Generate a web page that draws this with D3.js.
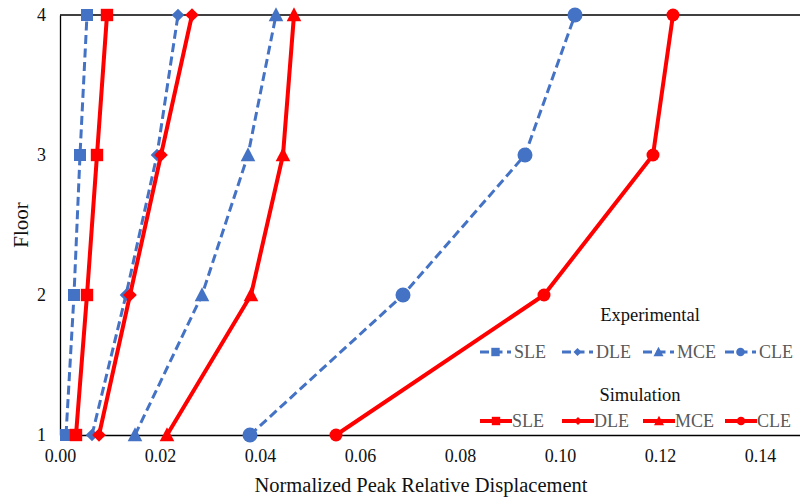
<!DOCTYPE html>
<html>
<head>
<meta charset="utf-8">
<script src="https://cdn.jsdelivr.net/npm/d3@7"></script>
<style>
  body { margin: 0; background: #fff; }
  svg text { font-family: "Liberation Serif", "Times New Roman", Tinos, "DejaVu Serif", serif; }
</style>
</head>
<body>
<svg id="chart" width="800" height="500"></svg>
<script>
// Floors (y) and normalized peak relative displacement per floor (x)
const floors = [1, 2, 3, 4];
const levels = ["SLE", "DLE", "MCE", "CLE"];
const markers = ["square", "diamond", "triangle", "circle"];

const expSLE = [0.0012, 0.0028, 0.0040, 0.0054];
const expDLE = [0.0064, 0.0132, 0.0194, 0.0236];
const expMCE = [0.0150, 0.0284, 0.0376, 0.0432];
const expCLE = [0.0380, 0.0686, 0.0930, 0.1030];

const simSLE = [0.0032, 0.0054, 0.0074, 0.0094];
const simDLE = [0.0078, 0.0140, 0.0202, 0.0264];
const simMCE = [0.0214, 0.0382, 0.0446, 0.0468];
const simCLE = [0.0552, 0.0968, 0.1186, 0.1226];

const xTicks = [0, 0.02, 0.04, 0.06, 0.08, 0.10, 0.12, 0.14];
const yTicks = [1, 2, 3, 4];

const groups = [
  { name: "Experimental", color: "#4472C4", dashed: true,  series: [expSLE, expDLE, expMCE, expCLE] },
  { name: "Simulation",   color: "#FF0000", dashed: false, series: [simSLE, simDLE, simMCE, simCLE] }
];

const FONT = '"Liberation Serif", "Times New Roman", Tinos, "DejaVu Serif", serif';
const svg = d3.select("#chart");
const m = { left: 60, top: 15, right: 800, bottom: 435 };

const x = d3.scaleLinear().domain([0, 0.148]).range([m.left, m.right]);
const y = d3.scaleLinear().domain([1, 4]).range([m.bottom, m.top]);

// Frame lines: top border plus the two axes
svg.append("line").attr("x1", m.left).attr("x2", m.right).attr("y1", m.top).attr("y2", m.top)
  .attr("stroke", "#000").attr("stroke-width", 1.3);

const xAxis = svg.append("g").attr("transform", `translate(0,${m.bottom})`)
  .call(d3.axisBottom(x).tickValues(xTicks).tickFormat(d3.format(".2f")).tickSize(0).tickPadding(14));
xAxis.attr("font-family", FONT).attr("font-size", 18);
xAxis.select(".domain").attr("stroke", "#000").attr("stroke-width", 1.3);
xAxis.selectAll("text").attr("fill", "#111");

const yAxis = svg.append("g").attr("transform", `translate(${m.left},0)`)
  .call(d3.axisLeft(y).tickValues(yTicks).tickFormat(d3.format("d")).tickSize(0).tickPadding(14));
yAxis.attr("font-family", FONT).attr("font-size", 18);
yAxis.select(".domain").attr("stroke", "#000").attr("stroke-width", 1.3);
yAxis.selectAll("text").attr("fill", "#111");

// Axis titles
svg.append("text").attr("x", 421).attr("y", 492).attr("text-anchor", "middle")
  .attr("font-family", FONT).attr("font-size", 20.5).attr("fill", "#111")
  .text("Normalized Peak Relative Displacement");
svg.append("text").attr("transform", "translate(28,225) rotate(-90)").attr("text-anchor", "middle")
  .attr("font-family", FONT).attr("font-size", 21).attr("fill", "#111").text("Floor");

// Marker shapes; r is the half-width of the marker
function markerPath(kind, r) {
  if (kind === "square") return `M${-r},${-r}H${r}V${r}H${-r}Z`;
  if (kind === "diamond") return `M0,${-r}L${r},0L0,${r}L${-r},0Z`;
  if (kind === "triangle") return `M0,${-r * 1.05}L${r},${r * 0.85}L${-r},${r * 0.85}Z`;
  const p = d3.path(); p.arc(0, 0, r, 0, 2 * Math.PI); return p.toString();
}
const markerR = {
  Experimental: { square: 6, diamond: 6.3, triangle: 7.3, circle: 7.5 },
  Simulation:   { square: 6.2, diamond: 6.8, triangle: 7.3, circle: 6.5 }
};

const line = d3.line().x(d => x(d[0])).y(d => y(d[1]));

const plot = svg.append("g");
groups.forEach(g => {
  g.series.forEach((vals, i) => {
    const pts = vals.map((v, k) => [v, floors[k]]);
    plot.append("path").attr("d", line(pts)).attr("fill", "none")
      .attr("stroke", g.color).attr("stroke-width", g.dashed ? 3 : 4)
      .attr("stroke-dasharray", g.dashed ? "9,4.5" : null)
      .attr("stroke-linejoin", "round");
    plot.selectAll(null).data(pts).enter().append("path")
      .attr("d", markerPath(markers[i], markerR[g.name][markers[i]]))
      .attr("transform", d => `translate(${x(d[0])},${y(d[1])})`)
      .attr("fill", g.color);
  });
});

// Legend
const legendRows = [
  { title: "Experimental", tx: 650, ty: 321, ry: 352 },
  { title: "Simulation",   tx: 640, ty: 401, ry: 421 }
];
const itemX = [480, 562, 643, 725];
const legendR = { square: 4.2, diamond: 4, triangle: 5, circle: 4.3 };
legendRows.forEach((r, gi) => {
  const g = groups[gi];
  svg.append("text").attr("x", r.tx).attr("y", r.ty).attr("text-anchor", "middle")
    .attr("font-family", FONT).attr("font-size", 18.5).attr("fill", "#111").text(r.title);
  levels.forEach((lv, i) => {
    const x0 = itemX[i];
    const len = g.dashed ? 31 : 32;
    svg.append("line").attr("x1", x0).attr("x2", x0 + len).attr("y1", r.ry).attr("y2", r.ry)
      .attr("stroke", g.color).attr("stroke-width", g.dashed ? 3 : 4)
      .attr("stroke-dasharray", g.dashed ? "9,4.5" : null);
    svg.append("path").attr("d", markerPath(markers[i], legendR[markers[i]]))
      .attr("transform", `translate(${x0 + len / 2},${r.ry})`).attr("fill", g.color);
    svg.append("text").attr("x", x0 + len + (g.dashed ? 3 : 0)).attr("y", r.ry + 6)
      .attr("font-family", FONT).attr("font-size", 18).attr("fill", "#595959").text(lv);
  });
});
</script>
</body>
</html>
